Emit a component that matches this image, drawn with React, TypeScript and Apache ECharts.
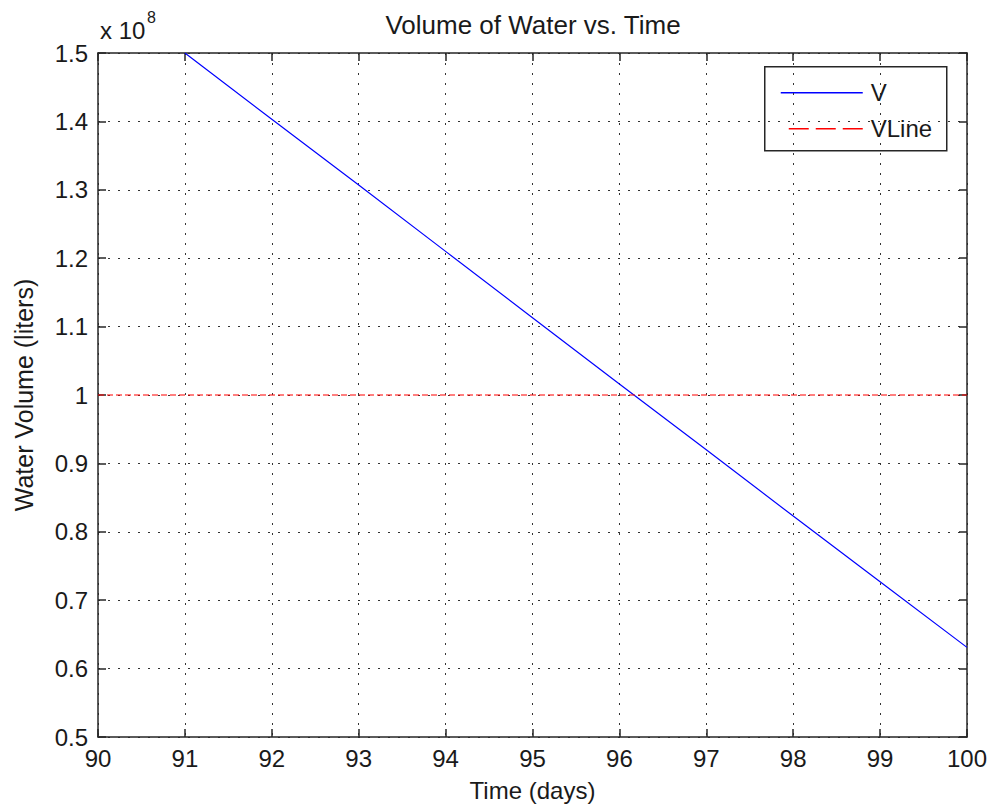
import React, { useEffect, useRef } from "react";
import * as echarts from "echarts";

// Data (volume in units of 1e8 liters)
const days = [91, 92, 93, 94, 95, 96, 97, 98, 99, 100];
const volumeE8 = [1.5, 1.403, 1.307, 1.21, 1.113, 1.016, 0.92, 0.823, 0.727, 0.631];
const vLineDays = [90, 100];
const vLineValues = [1, 1];
const seriesNames = ["V", "VLine"];
const titleText = "Volume of Water vs. Time";
const xName = "Time (days)";
const yName = "Water Volume (liters)";

const FONT = "'Liberation Sans', Arial, Helvetica, sans-serif";
const AX = "#262626";
const TXT = "#1a1a1a";

export default function App() {
  const ref = useRef<HTMLDivElement>(null);
  useEffect(() => {
    document.body.style.margin = "0";
    const chart = echarts.init(ref.current!, null, { renderer: "svg" });
    const axisLine = { show: true, onZero: false, lineStyle: { color: AX, width: 1.5 } };
    const axisTick = { show: true, inside: true, length: 8, lineStyle: { color: AX, width: 1.5 } };
    const splitLine = { show: true, lineStyle: { type: [2, 8], color: "#333", width: 1 } };
    const labelStyle = { color: TXT, fontSize: 24, fontFamily: FONT };
    const fmt = (v: number) => String(+v.toFixed(1));
    chart.setOption({
      animation: false,
      backgroundColor: "#fff",
      title: {
        text: titleText,
        left: 528,
        top: 7,
        textAlign: "center",
        textStyle: { color: TXT, fontSize: 26, fontWeight: "normal", fontFamily: FONT },
      },
      grid: { left: 98, right: 23, top: 53, bottom: 70 },
      xAxis: [
        {
          type: "value", min: 90, max: 100, interval: 1, position: "bottom",
          axisLine, axisTick, splitLine,
          axisLabel: { ...labelStyle, margin: 9 },
          name: xName, nameLocation: "middle", nameGap: 41,
          nameTextStyle: { ...labelStyle },
        },
        {
          type: "value", min: 90, max: 100, interval: 1, position: "top",
          axisLine, axisTick, splitLine: { show: false }, axisLabel: { show: false },
        },
      ],
      yAxis: [
        {
          type: "value", min: 0.5, max: 1.5, interval: 0.1, position: "left",
          axisLine, axisTick, splitLine,
          axisLabel: { ...labelStyle, margin: 10, formatter: fmt },
          name: yName, nameLocation: "middle", nameGap: 62,
          nameTextStyle: { ...labelStyle, fontSize: 25 },
        },
        {
          type: "value", min: 0.5, max: 1.5, interval: 0.1, position: "right",
          axisLine, axisTick, splitLine: { show: false }, axisLabel: { show: false },
        },
      ],
      series: [
        {
          name: seriesNames[0], type: "line", symbol: "none",
          data: days.map((d, i) => [d, volumeE8[i]]),
          lineStyle: { color: "#0000ff", width: 1.2 },
        },
        {
          name: seriesNames[1], type: "line", symbol: "none",
          data: vLineDays.map((d, i) => [d, vLineValues[i]]),
          lineStyle: { color: "#ff0000", width: 1.2, type: [6, 3] },
        },
      ],
      graphic: [
        {
          type: "text", left: 100, top: 18, z: 100,
          style: { text: "x 10", fontSize: 24, fontFamily: FONT, fill: TXT },
        },
        {
          type: "text", left: 147, top: 9, z: 100,
          style: { text: "8", fontSize: 16, fontFamily: FONT, fill: TXT },
        },
        {
          type: "group", left: 764, top: 66, z: 100,
          children: [
            {
              type: "rect", shape: { x: 0, y: 0, width: 182, height: 84 },
              style: { fill: "#fff", stroke: AX, lineWidth: 1.5 },
            },
            {
              type: "line", shape: { x1: 16, y1: 26, x2: 98, y2: 26 },
              style: { stroke: "#0000ff", lineWidth: 1.5 },
            },
            {
              type: "line", shape: { x1: 24, y1: 62, x2: 98, y2: 62 },
              style: { stroke: "#ff0000", lineWidth: 1.5, lineDash: [20, 7] },
            },
            {
              type: "text", x: 106, y: 26,
              style: { text: seriesNames[0], fontSize: 24, fontFamily: FONT, fill: TXT, verticalAlign: "middle" },
            },
            {
              type: "text", x: 106, y: 62,
              style: { text: seriesNames[1], fontSize: 24, fontFamily: FONT, fill: TXT, verticalAlign: "middle" },
            },
          ],
        },
      ],
    });
    return () => chart.dispose();
  }, []);
  return <div ref={ref} style={{ width: 990, height: 807 }} />;
}
